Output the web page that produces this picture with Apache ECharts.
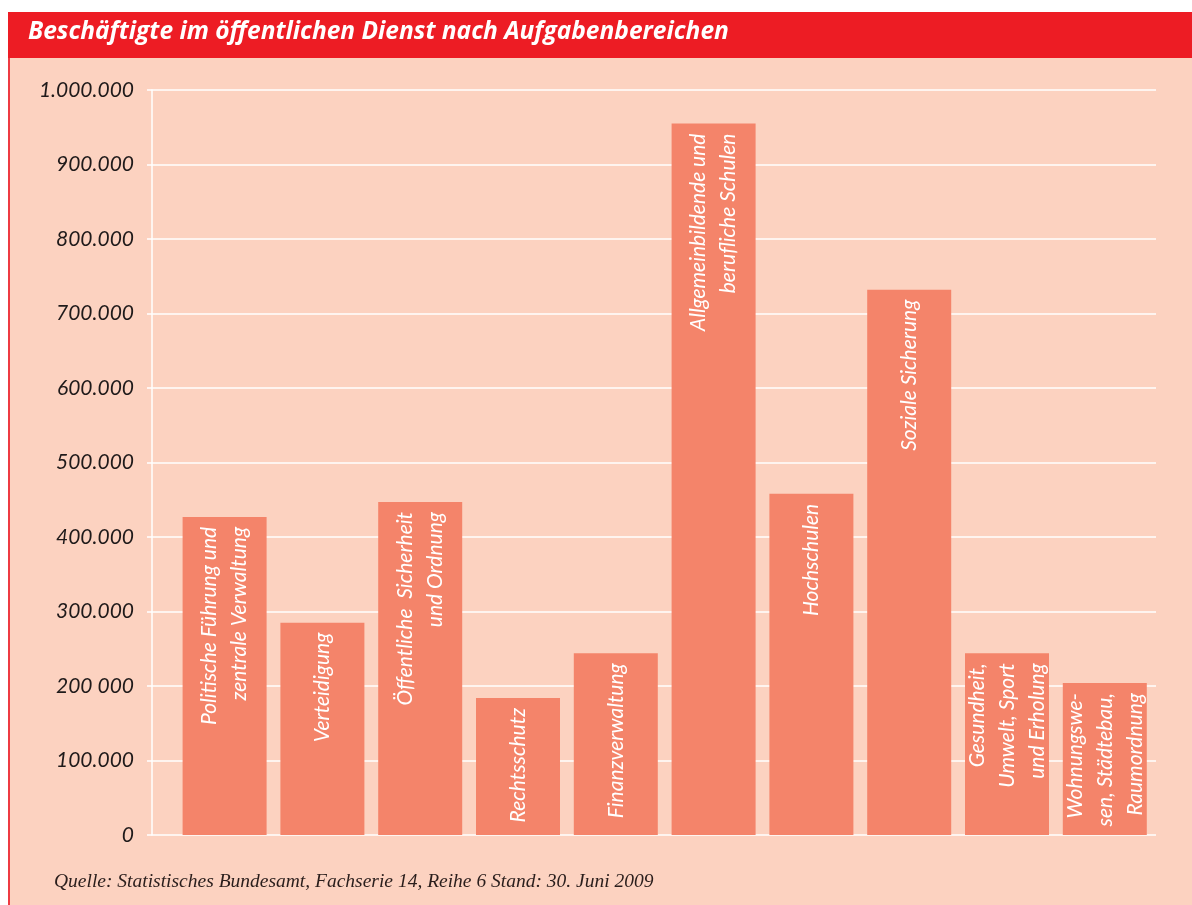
<!DOCTYPE html>
<html>
<head>
<meta charset="utf-8">
<script src="https://cdn.jsdelivr.net/npm/echarts@6/dist/echarts.min.js"></script>
<style>
  html, body { margin: 0; padding: 0; background: #fff; }
  #chart { width: 1192px; height: 905px; }
</style>
</head>
<body>
<div id="chart"></div>
<script>
// Aufgabenbereiche (Zeilenumbrüche wie in der Vorlage)
const categories = [
  'Politische Führung und\nzentrale Verwaltung',
  'Verteidigung',
  'Öffentliche  Sicherheit\nund Ordnung',
  'Rechtsschutz',
  'Finanzverwaltung',
  'Allgemeinbildende und\nberufliche Schulen',
  'Hochschulen',
  'Soziale Sicherung',
  'Gesundheit,\nUmwelt, Sport\nund Erholung',
  'Wohnungswe-\nsen, Städtebau,\nRaumordnung'
]
// Beschäftigte
const employees = [427000, 285000, 447000, 184000, 244000, 955000, 458000, 732000, 244000, 204000]
// Achsenbeschriftung, so wie sie im Original steht
const yTickLabels = ['0', '100.000', '200 000', '300.000', '400.000', '500.000',
  '600.000', '700.000', '800.000', '900.000', '1.000.000']

const titleText = 'Beschäftigte im öffentlichen Dienst nach Aufgabenbereichen'
const sourceText = 'Quelle: Statistisches Bundesamt, Fachserie 14, Reihe 6 Stand: 30. Juni 2009'

const chart = echarts.init(document.getElementById('chart'))

const option = {
  animation: false,
  backgroundColor: '#ffffff',
  graphic: [
    { type: 'rect', z: -10, shape: { x: 8, y: 12, width: 1184, height: 46 }, style: { fill: '#ED1C24' } },
    { type: 'rect', z: -10, shape: { x: 8, y: 58, width: 1184, height: 847 }, style: { fill: '#FCD2C0' } },
    { type: 'rect', z: -9, shape: { x: 8, y: 58, width: 2, height: 847 }, style: { fill: '#EE3B42' } },
    {
      type: 'text', left: 28, top: 20,
      style: {
        text: titleText, fill: '#ffffff',
        font: 'italic bold 24.5px "Open Sans"'
      }
    },
    {
      type: 'text', left: 54, top: 872,
      style: {
        text: sourceText, fill: '#2a1e1c',
        font: 'italic 19.5px "Liberation Serif"'
      }
    }
  ],
  grid: [
    { left: 152, right: 36, top: 90, bottom: 70 },
    { left: 175.7, width: 978, top: 90, bottom: 70 }
  ],
  xAxis: [
    { gridIndex: 0, type: 'category', data: [], show: false },
    { gridIndex: 1, type: 'category', data: categories, show: false }
  ],
  yAxis: [
    {
      gridIndex: 0,
      type: 'value',
      min: 0,
      max: 1000000,
      interval: 100000,
      axisLine: { show: true, lineStyle: { color: '#ffffff', width: 1.5 } },
      axisTick: { show: true, length: 5, lineStyle: { color: '#ffffff', width: 1.5 } },
      splitLine: { show: true, lineStyle: { color: '#ffffff', width: 1.5 } },
      axisLabel: {
        margin: 18,
        color: '#1f1a1a',
        fontStyle: 'italic',
        fontFamily: 'Lato',
        fontSize: 21,
        formatter: (v) => yTickLabels[Math.round(v / 100000)]
      }
    },
    { gridIndex: 1, type: 'value', min: 0, max: 1000000, show: false }
  ],
  series: [
    {
      type: 'bar',
      xAxisIndex: 1,
      yAxisIndex: 1,
      data: employees,
      barWidth: 84,
      itemStyle: { color: '#F4846A' },
      label: {
        show: true,
        formatter: (p) => categories[p.dataIndex],
        position: 'insideTop',
        distance: 10,
        rotate: 90,
        align: 'right',
        verticalAlign: 'middle',
        color: '#ffffff',
        fontStyle: 'italic',
        fontFamily: 'Lato',
        fontSize: 21,
        lineHeight: 30
      }
    }
  ]
}

chart.setOption(option)
</script>
</body>
</html>
